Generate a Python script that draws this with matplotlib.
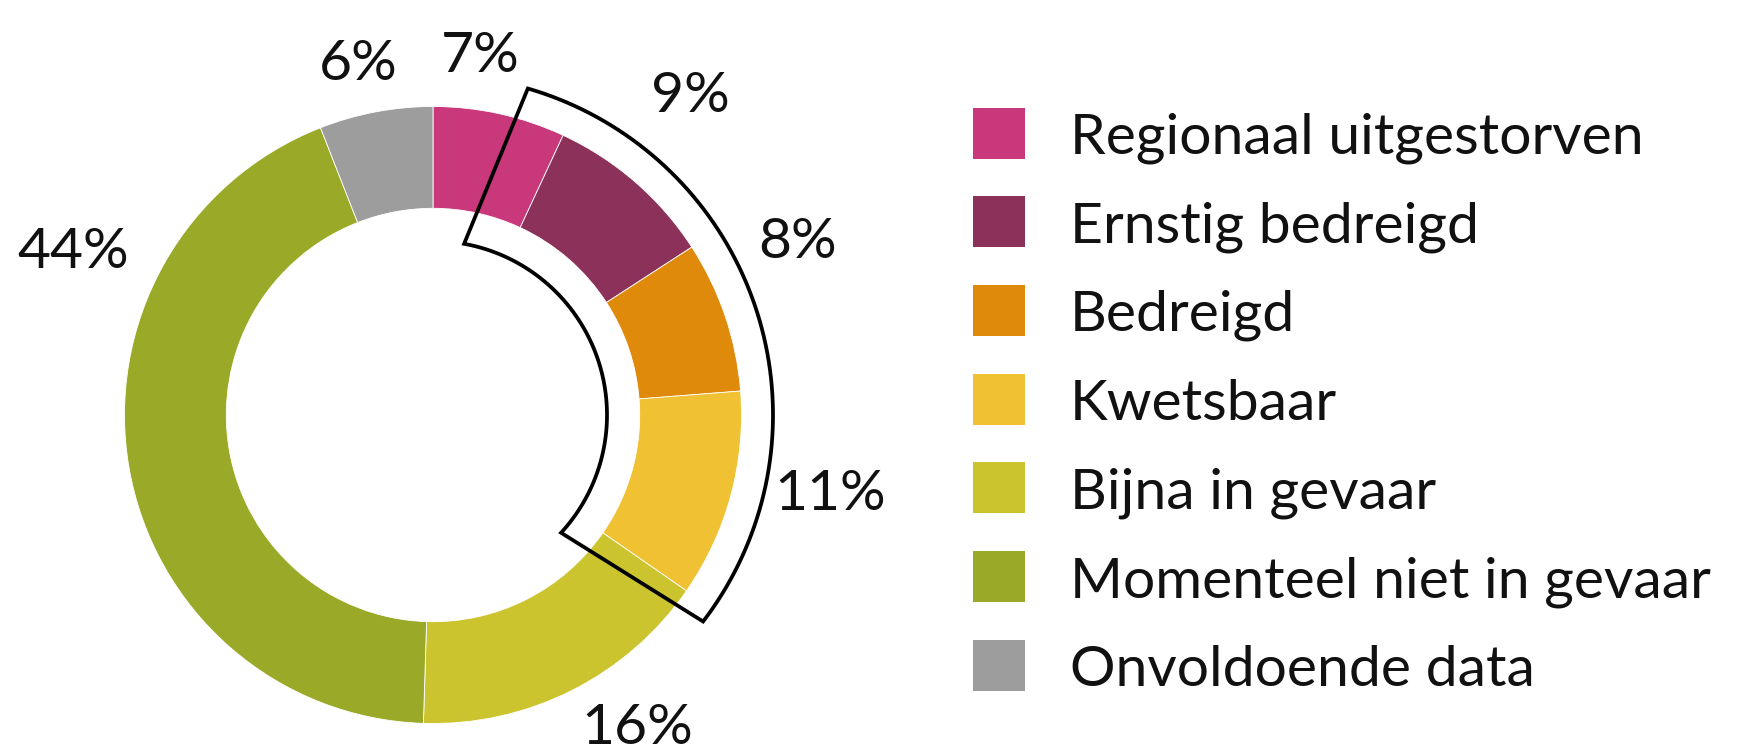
import matplotlib.pyplot as plt
import numpy as np
from matplotlib.patches import Rectangle, PathPatch
from matplotlib.path import Path

plt.rcParams['font.family'] = ['Lato', 'DejaVu Sans']

# data
categories = ['Regionaal uitgestorven', 'Ernstig bedreigd', 'Bedreigd', 'Kwetsbaar',
              'Bijna in gevaar', 'Momenteel niet in gevaar', 'Onvoldoende data']
percentages = [7, 9, 8, 11, 16, 44, 6]
colors = ['#C8387A', '#8C325A', '#E08A0C', '#F0C133', '#CCC42E', '#9AAA28', '#9D9D9D']

# figure in pixel units (1744 x 754)
W, H = 1744, 754
fig = plt.figure(figsize=(W / 100, H / 100), dpi=100)
ax = fig.add_axes([0, 0, 1, 1])

cx, cy, R = 433, H - 415, 308.5
ax.pie(percentages, colors=colors, startangle=90, counterclock=False,
       center=(cx, cy), radius=R,
       wedgeprops=dict(width=R * 0.33, edgecolor='white', linewidth=0.6))
ax.set_xlim(0, W)
ax.set_ylim(0, H)
ax.set_aspect('equal')
ax.axis('off')

# percentage labels, placed by hand like the original
label_pos = [(480, 57), (690, 97), (798, 243), (830, 495), (637, 728), (73, 252), (358, 65)]
for v, (x, y) in zip(percentages, label_pos):
    ax.text(x, H - y, f'{v}%', fontsize=41, ha='center', va='center', color='#111111')

# outline around the threatened categories
def pt(r, a):
    t = np.deg2rad(90 - a)
    return (cx + r * np.cos(t), cy + r * np.sin(t))

r_out, r_in = 340, 174
outer = [pt(r_out, a) for a in np.linspace(16.2, 127.4, 80)]
inner = [pt(r_in, a) for a in np.linspace(132.6, 10.3, 80)]
verts = outer + inner + [outer[0]]
codes = [Path.MOVETO] + [Path.LINETO] * (len(verts) - 2) + [Path.CLOSEPOLY]
ax.add_patch(PathPatch(Path(verts, codes), facecolor='none', edgecolor='black',
                       linewidth=2.7, joinstyle='miter'))

# legend
y0, step = 133, 88.7
for i, (cat, col) in enumerate(zip(categories, colors)):
    yc = H - (y0 + i * step)
    ax.add_patch(Rectangle((973, yc - 25.5), 52, 51, facecolor=col, edgecolor='none'))
    ax.text(1070, yc, cat, fontsize=41, ha='left', va='center_baseline', color='#111111')

plt.savefig('out.png', dpi=100)
plt.close()
